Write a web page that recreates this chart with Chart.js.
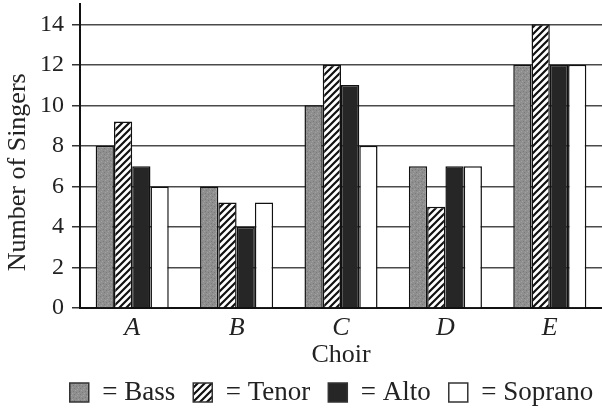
<!DOCTYPE html>
<html lang="en">
<head>
  <meta charset="UTF-8">
  <title>Choir singers</title>
  <script src="https://cdn.jsdelivr.net/npm/chart.js"></script>
  <style>
    html, body { margin: 0; padding: 0; background: #ffffff; }
    #wrap { width: 602px; height: 411px; }
  </style>
</head>
<body>
  <div id="wrap"><canvas id="myChart" width="602" height="411"></canvas></div>

<script>
  // data
  const choirs = ['A', 'B', 'C', 'D', 'E'];
  const bass = [8, 6, 10, 7, 12];
  const tenor = [9.2, 5.2, 12, 5, 14];
  const alto = [7, 4, 11, 7, 12];
  const soprano = [6, 5.2, 8, 7, 12];
  const yTicks = [0, 2, 4, 6, 8, 10, 12, 14];

  // fill patterns, like in the printed chart
  function tile(size, draw) {
    const c = document.createElement('canvas');
    c.width = size; c.height = size;
    const g = c.getContext('2d');
    draw(g, size);
    return g.createPattern(c, 'repeat');
  }

  const grayFill = tile(6, function (g, s) {
    g.fillStyle = '#8f8f8f';
    g.fillRect(0, 0, s, s);
    g.fillStyle = '#7a7a7a';
    g.fillRect(1, 1, 1, 1); g.fillRect(4, 2, 1, 1); g.fillRect(2, 4, 1, 1);
    g.fillStyle = '#a3a3a3';
    g.fillRect(3, 0, 1, 1); g.fillRect(0, 3, 1, 1); g.fillRect(5, 5, 1, 1);
  });

  const hatchFill = tile(7, function (g, s) {
    g.fillStyle = '#ffffff';
    g.fillRect(0, 0, s, s);
    g.strokeStyle = '#111111';
    g.lineWidth = 2.2;
    g.beginPath();
    g.moveTo(-1, s + 1); g.lineTo(s + 1, -1);
    g.moveTo(-1, 1); g.lineTo(1, -1);
    g.moveTo(s - 1, s + 1); g.lineTo(s + 1, s - 1);
    g.stroke();
  });

  const serif = "'Liberation Serif', 'DejaVu Serif', serif";

  // move the legend row a bit to sit like the printed one
  const legendNudge = {
    id: 'legendNudge',
    afterLayout: function (chart) {
      chart.legend.left = 23;
      chart.legend.right = 640;
      chart.legend.top = 361;
    }
  };

  const ctx = document.getElementById('myChart');

  new Chart(ctx, {
    type: 'bar',
    data: {
      labels: choirs,
      datasets: [
        { label: 'Bass', data: bass, backgroundColor: grayFill },
        { label: 'Tenor', data: tenor, backgroundColor: hatchFill },
        { label: 'Alto', data: alto, backgroundColor: '#262626' },
        { label: 'Soprano', data: soprano, backgroundColor: '#ffffff' }
      ].map(function (d) {
        d.borderColor = '#111111';
        d.borderWidth = 1.5;
        d.borderSkipped = 'bottom';
        d.categoryPercentage = 0.7;
        d.barPercentage = 1.0;
        return d;
      })
    },
    plugins: [legendNudge],
    options: {
      responsive: false,
      animation: false,
      layout: { padding: { top: 4, right: 0, left: 0, bottom: 0 } },
      plugins: {
        tooltip: { enabled: false },
        legend: {
          position: 'bottom',
          labels: {
            color: '#222222',
            font: { family: serif, size: 27 },
            boxWidth: 19,
            boxHeight: 19,
            padding: 18,
            generateLabels: function (chart) {
              return chart.data.datasets.map(function (ds, i) {
                return {
                  text: '= ' + ds.label,
                  fillStyle: ds.backgroundColor,
                  strokeStyle: '#333333',
                  lineWidth: 1.5,
                  fontColor: '#222222',
                  datasetIndex: i
                };
              });
            }
          }
        }
      },
      scales: {
        x: {
          afterFit: function (scale) { scale.height = 48; },
          grid: { display: false },
          border: { display: true, color: '#111111', width: 2 },
          ticks: {
            color: '#222222',
            font: { family: serif, size: 26, style: 'italic' },
            padding: -3
          },
          title: {
            display: true,
            text: 'Choir',
            color: '#222222',
            font: { family: serif, size: 26 },
            padding: { top: 0, bottom: -15 }
          }
        },
        y: {
          min: 0,
          max: 15,
          afterBuildTicks: function (scale) {
            scale.ticks = yTicks.map(function (v) { return { value: v }; });
          },
          afterFit: function (scale) {
            scale.width = 80;
            scale.paddingTop = 0;
            scale.paddingBottom = 0;
          },
          grid: {
            color: '#4a4a4a',
            lineWidth: 1.5,
            tickLength: 8,
            tickColor: '#333333'
          },
          border: { display: true, color: '#111111', width: 2 },
          ticks: {
            color: '#222222',
            font: { family: serif, size: 24 },
            padding: 8
          },
          title: {
            display: true,
            // trailing spaces push the rotated text a little lower, as printed
            text: 'Number of Singers\u00a0\u00a0\u00a0\u00a0\u00a0',
            color: '#222222',
            font: { family: serif, size: 26 },
            padding: { top: 3, bottom: 0 }
          }
        }
      }
    }
  });
</script>
</body>
</html>
